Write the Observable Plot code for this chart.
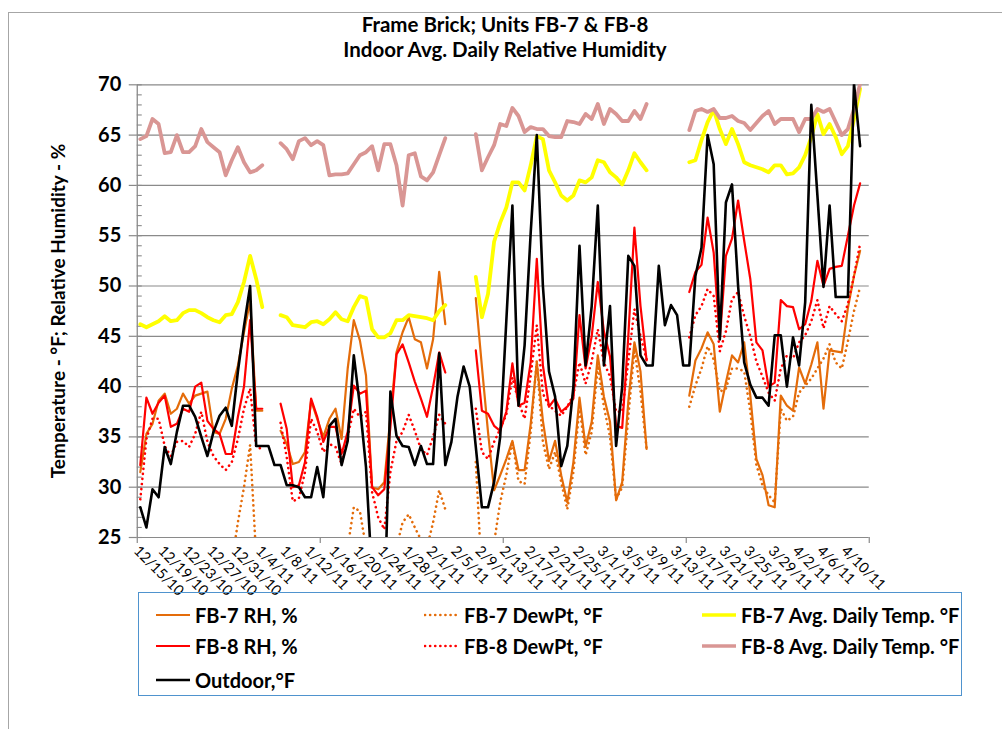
<!DOCTYPE html>
<html>
<head>
<meta charset="utf-8">
<script src="https://cdn.jsdelivr.net/npm/d3@7"></script>
<script src="https://cdn.jsdelivr.net/npm/@observablehq/plot@0.6"></script>
<style>
  html,body{margin:0;padding:0;background:#fff;}
  #wrap{position:relative;width:1002px;height:729px;overflow:hidden;font-family:Lato,"Open Sans",sans-serif;color:#000;}
  #frame{position:absolute;left:8px;top:12px;width:1200px;height:900px;border:1px solid #a6a6a6;}
  #chart{position:absolute;left:0;top:0;}
  #title{position:absolute;left:0;top:12px;width:1010px;text-align:center;font-weight:700;font-size:20.5px;line-height:25px;}
  #ytitle{position:absolute;left:57px;top:311px;transform:translate(-50%,-50%) rotate(-90deg);white-space:nowrap;font-weight:700;font-size:19px;}
  #legend{position:absolute;left:138px;top:592px;width:824px;height:104px;box-sizing:border-box;border:1.5px solid #4f93ce;}
  .li{position:absolute;display:flex;align-items:center;font-weight:700;font-size:20px;white-space:nowrap;height:30px;}
  .li svg{margin-right:4px;}
</style>
</head>
<body>
<div id="wrap">
  <div id="frame"></div>
  <div id="chart"></div>
  <div id="title">Frame Brick; Units FB-7 &amp; FB-8<br>Indoor Avg. Daily Relative Humidity</div>
  <div id="ytitle">Temperature - °F; Relative Humidity - %</div>
  <div id="legend"></div>
</div>
<script>
// ---- tick labels ----
const xLabels = ["12/15/10","12/19/10","12/23/10","12/27/10","12/31/10","1/4/11","1/8/11","1/12/11","1/16/11","1/20/11","1/24/11","1/28/11","2/1/11","2/5/11","2/9/11","2/13/11","2/17/11","2/21/11","2/25/11","3/1/11","3/5/11","3/9/11","3/13/11","3/17/11","3/21/11","3/25/11","3/29/11","4/2/11","4/6/11","4/10/11"];
const labelStep = 4; // one label every 4 days
const yTicks = [25,30,35,40,45,50,55,60,65,70];

// ---- daily series, 12/15/10 .. 4/12/11 (null = no data) ----
const fb7RH = [
 31.5, 35.3, 36.3, 38.6, 39.3, 37.3, 37.8, 39.3, 38.3, 39.1,
 39.3, 39.5, 35.5, 35.3, 36.8, 39.8, 42.1, 45.4, 48.5, 37.6,
 37.6, null, null, 35.6, 34.3, 32.3, 32.5, 33.5, 38.6, 36.8,
 35.0, 36.8, 37.8, 34.8, 41.8, 46.6, 44.6, 41.1, 30.0, 29.8,
 30.5, 37.0, 43.4, 45.4, 46.9, 44.7, 44.4, 41.8, 44.7, 51.4,
 46.2, null, null, null, null, 48.8, 42.0, 35.5, 29.7, 31.2,
 32.8, 34.6, 31.7, 31.7, 36.3, 42.4, 36.6, 32.6, 34.6, 31.2,
 28.5, 32.5, 38.9, 34.0, 36.5, 43.1, 39.0, 36.5, 28.7, 30.5,
 38.5, 44.4, 41.5, 33.8, null, null, null, null, null, null,
 39.1, 42.6, 43.8, 45.4, 44.2, 37.5, 40.4, 43.1, 42.4, 44.4,
 39.1, 32.8, 31.2, 28.2, 28.0, 39.1, 38.1, 37.6, 41.9, 40.3,
 42.2, 44.4, 37.8, 43.6, 43.5, 43.4, 47.8, 51.0, 53.5];
const fb7Dew = [
 21.0, 21.5, 22.0, 22.5, 22.0, 21.5, 22.0, 22.5, 22.0, 22.5,
 23.0, 22.5, 21.5, 21.0, 21.5, 22.5, 26.5, 30.0, 34.2, 23.0,
 22.0, null, null, 22.0, 21.0, 19.5, 20.0, 21.0, 23.0, 22.0,
 21.0, 22.0, 22.5, 21.0, 24.0, 28.0, 27.6, 24.0, 18.0, 17.0,
 19.0, 22.0, 24.0, 26.5, 27.3, 26.0, 24.8, 24.0, 26.5, 29.7,
 27.8, null, null, null, null, 32.5, 21.0, 21.5, 24.5, 28.5,
 31.2, 34.6, 30.6, 30.3, 35.5, 42.6, 34.5, 31.8, 33.5, 30.5,
 27.8, 31.5, 38.0, 33.2, 35.5, 42.1, 38.0, 35.0, 28.8, 30.0,
 37.0, 43.7, 39.5, 33.8, null, null, null, null, null, null,
 38.0, 40.1, 41.8, 44.0, 42.7, 39.5, 39.8, 41.8, 41.8, 41.5,
 37.5, 32.2, 30.2, 29.2, 28.5, 37.8, 36.6, 37.0, 39.4, 40.1,
 40.8, 41.8, 42.8, 44.2, 42.4, 41.8, 44.5, 47.5, 49.9];
const fb7Temp = [
 46.2, 45.9, 46.2, 46.5, 47.0, 46.5, 46.6, 47.3, 47.6, 47.6,
 47.3, 46.9, 46.6, 46.4, 47.1, 47.2, 48.4, 50.4, 53.0, 50.7,
 47.9, null, null, 47.1, 46.9, 46.1, 46.0, 45.9, 46.4, 46.5,
 46.2, 46.7, 47.4, 46.7, 46.5, 47.9, 49.0, 48.8, 45.7, 44.9,
 44.9, 45.3, 46.6, 46.6, 47.1, 47.0, 46.9, 46.8, 46.6, 47.5,
 48.1, null, null, null, null, 50.9, 46.9, 49.2, 54.4, 56.3,
 57.8, 60.3, 60.3, 59.5, 62.0, 64.9, 64.6, 61.5, 60.3, 59.0,
 58.5, 59.0, 60.5, 60.3, 60.8, 62.5, 62.3, 61.3, 60.8, 60.1,
 61.5, 63.2, 62.3, 61.5, null, null, null, null, null, null,
 62.3, 62.5, 64.5, 66.3, 67.5, 65.6, 64.1, 65.6, 64.1, 62.3,
 62.0, 61.8, 61.6, 61.3, 62.0, 62.0, 61.1, 61.2, 61.8, 63.0,
 64.8, 67.1, 65.1, 66.1, 64.8, 63.1, 63.9, 66.6, 69.6];
const fb8RH = [
 32.2, 38.9, 37.3, 38.4, 39.1, 36.0, 36.3, 37.8, 37.5, 40.0,
 40.4, 36.6, 35.8, 35.3, 33.3, 33.3, 37.0, 40.0, 46.6, 37.8,
 37.8, null, null, 38.3, 35.8, 30.0, 30.2, 32.5, 38.8, 37.0,
 34.5, 36.0, 36.0, 33.3, 35.5, 40.1, 39.3, 39.6, 30.0, 29.2,
 29.8, 36.0, 43.2, 44.2, 42.4, 40.5, 38.8, 37.0, 40.0, 43.4,
 41.4, null, null, null, null, 43.6, 37.6, 37.3, 36.1, 35.6,
 37.5, 42.3, 38.1, 38.4, 42.4, 52.7, 42.1, 38.0, 38.8, 37.5,
 38.0, 38.8, 47.1, 41.8, 45.0, 50.4, 45.5, 43.0, 36.1, 35.9,
 45.0, 55.8, 48.0, 42.6, null, null, null, null, null, null,
 49.4, 51.4, 52.1, 56.8, 53.3, 44.7, 53.0, 54.7, 58.5, 54.5,
 50.7, 44.4, 43.6, 40.0, 40.4, 48.6, 48.0, 47.9, 45.7, 46.2,
 48.5, 52.5, 50.0, 51.7, 51.9, 52.0, 55.0, 58.0, 60.2];
const fb8Dew = [
 28.8, 34.8, 36.8, 36.8, 34.1, 33.1, 34.5, 34.6, 34.0, 35.3,
 37.5, 34.5, 33.1, 32.3, 31.7, 32.5, 34.8, 37.8, 39.8, 34.0,
 33.8, null, null, 36.4, 33.0, 28.6, 28.9, 31.5, 36.8, 35.5,
 33.5, 34.3, 34.0, 32.3, 35.0, 37.8, 37.0, 37.5, 29.5, 27.0,
 25.8, 31.5, 34.6, 35.5, 37.2, 35.6, 33.8, 33.2, 35.0, 37.2,
 36.3, null, null, null, null, 37.8, 33.5, 32.8, 34.5, 35.8,
 37.2, 40.9, 38.5, 36.8, 41.1, 46.1, 39.3, 38.1, 37.6, 37.1,
 38.0, 39.2, 42.4, 40.3, 42.5, 45.7, 42.4, 41.0, 37.5, 37.5,
 42.5, 47.7, 45.0, 42.7, null, null, null, null, null, null,
 44.9, 47.1, 48.0, 49.7, 49.0, 43.5, 45.5, 48.7, 49.4, 47.0,
 45.0, 42.5, 41.0, 39.4, 38.6, 41.8, 43.1, 42.8, 44.4, 45.1,
 46.5, 48.6, 45.8, 48.0, 47.2, 46.5, 48.2, 51.0, 54.2];
const fb8Temp = [
 64.6, 64.9, 66.6, 66.1, 63.2, 63.3, 65.0, 63.3, 63.3, 63.9,
 65.6, 64.3, 63.8, 63.3, 61.0, 62.5, 63.8, 62.3, 61.3, 61.5,
 62.0, null, null, 64.2, 63.6, 62.6, 64.4, 64.7, 64.0, 64.4,
 64.0, 61.0, 61.1, 61.1, 61.2, 62.1, 63.0, 63.3, 63.9, 61.5,
 64.1, 64.1, 62.0, 58.0, 63.0, 63.2, 60.9, 60.5, 61.3, 63.0,
 64.7, null, null, null, null, 65.1, 61.5, 62.8, 64.0, 66.1,
 65.9, 67.7, 66.9, 65.3, 65.8, 65.6, 65.6, 64.9, 64.8, 64.8,
 66.4, 66.3, 66.1, 67.1, 66.6, 68.1, 66.1, 67.6, 67.1, 66.4,
 66.4, 67.4, 66.6, 68.1, null, null, null, null, null, null,
 65.5, 67.4, 67.6, 67.3, 67.6, 66.7, 66.7, 66.9, 66.4, 66.2,
 65.5, 66.2, 66.9, 67.4, 66.1, 66.6, 66.6, 66.6, 65.3, 66.6,
 66.6, 67.6, 67.3, 67.6, 66.3, 65.0, 65.6, 67.6, 70.1];
const outdoor = [
 28.0, 26.0, 29.8, 29.0, 34.0, 32.3, 35.5, 38.1, 38.1, 37.0,
 35.0, 33.1, 35.5, 37.1, 37.9, 36.1, 41.5, 46.0, 50.0, 34.1,
 34.1, 34.1, 32.2, 32.2, 30.2, 30.2, 30.0, 29.0, 29.0, 32.0,
 29.0, 36.1, 36.8, 32.2, 34.6, 43.1, 38.1, 32.0, 21.0, 18.0,
 17.0, 39.5, 35.1, 34.1, 34.0, 32.2, 34.1, 32.3, 32.3, 43.3,
 32.2, 34.5, 39.0, 42.0, 40.0, 34.0, 28.0, 28.0, 30.5, 35.0,
 46.5, 58.0, 38.1, 44.1, 55.3, 65.0, 50.0, 41.5, 39.0, 32.1,
 34.1, 40.0, 54.0, 42.1, 48.0, 58.0, 42.1, 48.0, 34.1, 40.0,
 53.0, 52.0, 43.1, 42.1, 42.1, 52.0, 46.1, 48.1, 47.1, 42.1,
 42.1, 51.0, 53.8, 65.0, 62.1, 44.7, 58.3, 60.1, 50.0, 42.4,
 40.2, 38.9, 38.9, 38.1, 45.1, 45.1, 40.0, 44.9, 42.1, 48.4,
 68.0, 59.0, 49.9, 58.0, 48.9, 48.9, 48.9, 70.1, 63.9];

const series = [
  {name: "FB-7 RH, %",               values: fb7RH,   stroke: "#E46C0A", width: 2.2, dash: null},
  {name: "FB-7 DewPt, °F",           values: fb7Dew,  stroke: "#E46C0A", width: 2.6, dash: "0.1 5"},
  {name: "FB-7 Avg. Daily Temp. °F", values: fb7Temp, stroke: "#FFFF00", width: 3.8, dash: null},
  {name: "FB-8 RH, %",               values: fb8RH,   stroke: "#FF0000", width: 2.2, dash: null},
  {name: "FB-8 DewPt, °F",           values: fb8Dew,  stroke: "#FF0000", width: 2.6, dash: "0.1 5"},
  {name: "FB-8 Avg. Daily Temp. °F", values: fb8Temp, stroke: "#D99694", width: 3.8, dash: null},
  {name: "Outdoor,°F",               values: outdoor, stroke: "#000000", width: 2.6, dash: null}
];

// ---- layout ----
const W = 1002, H = 592;
const plotLeft = 136.75, plotRight = 868.75, plotTop = 84.3, plotBottom = 537;
const xDomain = [-0.5, 119.5];
const yDomain = [25, 70];
const pxPerDay = (plotRight - plotLeft) / (xDomain[1] - xDomain[0]);
const pxPerUnit = (plotBottom - plotTop) / (yDomain[1] - yDomain[0]);
const axisColor = "#8a8a8a";

const lineMarks = series.map(s => Plot.line(s.values, {
  x: (d, i) => i, y: d => d,
  stroke: s.stroke, strokeWidth: s.width,
  strokeDasharray: s.dash || undefined,
  strokeLinecap: "round", strokeLinejoin: "round",
  clip: true
}));

const chart = Plot.plot({
  width: W, height: H,
  marginLeft: plotLeft, marginRight: W - plotRight, marginTop: plotTop, marginBottom: H - plotBottom,
  x: {domain: xDomain, axis: null},
  y: {domain: yDomain, axis: null},
  style: {background: "transparent", fontFamily: "Lato, 'Open Sans', sans-serif", overflow: "visible"},
  marks: [
    Plot.ruleY(yTicks, {stroke: axisColor, strokeWidth: 1.2}),
    Plot.ruleY(d3.range(yDomain[0], yDomain[1] + 1), {x1: xDomain[0], x2: xDomain[0] + 5 / pxPerDay, stroke: axisColor, strokeWidth: 1.1}),
    Plot.ruleY(yTicks, {x1: xDomain[0] - 8 / pxPerDay, x2: xDomain[0], stroke: axisColor, strokeWidth: 1.2}),
    Plot.ruleX([xDomain[0]], {stroke: axisColor, strokeWidth: 1.3}),
    Plot.ruleX(d3.range(xDomain[0], xDomain[1] + 0.01, 30), {y1: yDomain[0], y2: yDomain[0] - 6 / pxPerUnit, stroke: axisColor, strokeWidth: 1.2}),
    Plot.text(yTicks, {x: xDomain[0], y: d => d, text: d => String(d), textAnchor: "end", dx: -16, fontSize: 20, fontWeight: "bold", fill: "#000"}),
    Plot.text(xLabels, {x: (d, i) => i * labelStep, y: yDomain[0], text: d => d, rotate: 45, textAnchor: "start", dx: -4, dy: 11, fontSize: 14.5, fill: "#000"}),
    ...lineMarks
  ]
});
document.getElementById("chart").appendChild(chart);

// ---- legend ----
const legend = document.getElementById("legend");
const colX = [16, 285, 562];
const rowY = [22, 53, 87];
series.forEach((s, i) => {
  const col = i === 6 ? 0 : i % 3;
  const row = Math.floor(i / 3);
  const div = document.createElement("div");
  div.className = "li";
  div.style.left = colX[col] + "px";
  div.style.top = (rowY[row] - 15) + "px";
  const len = 36;
  div.innerHTML = `<svg width="${len}" height="10"><line x1="1" y1="5" x2="${len - 1}" y2="5" stroke="${s.stroke}" stroke-width="${s.dash ? 2.6 : Math.min(s.width, 3.5)}" ${s.dash ? `stroke-dasharray="${s.dash}" stroke-linecap="round"` : ""}/></svg><span>${s.name}</span>`;
  legend.appendChild(div);
});
</script>
</body>
</html>
